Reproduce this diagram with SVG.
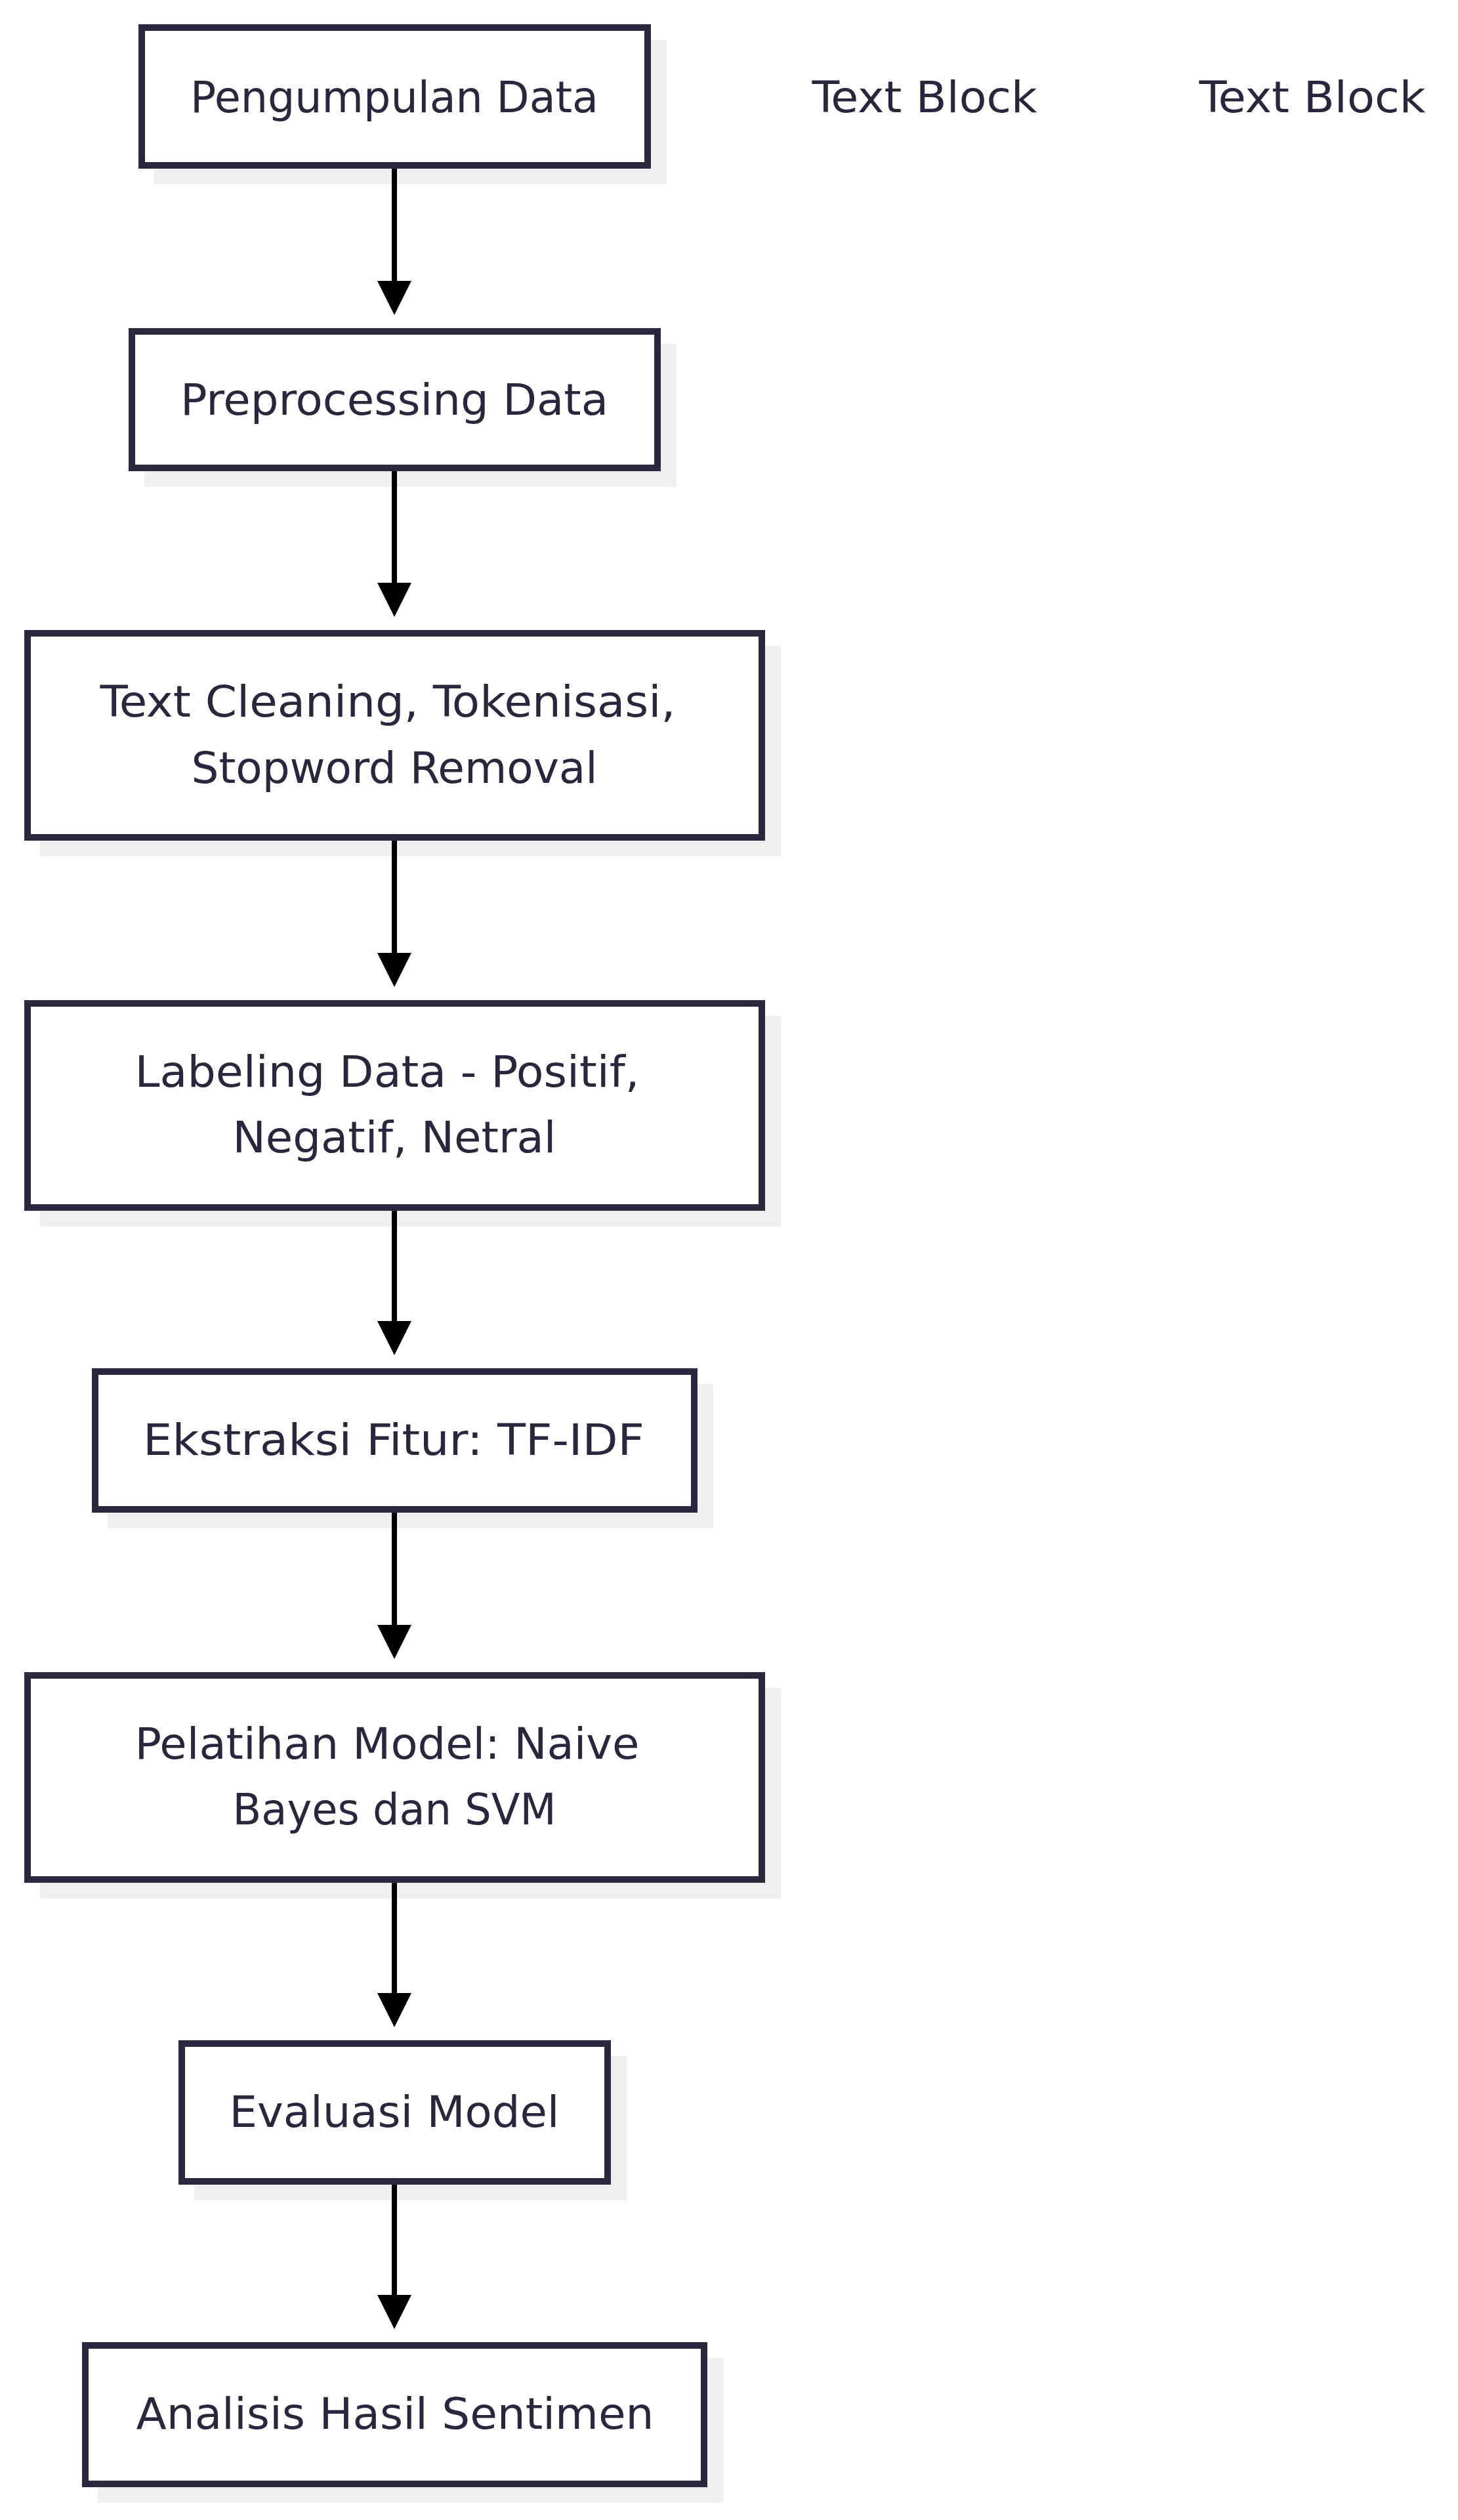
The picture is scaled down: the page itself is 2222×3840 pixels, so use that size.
<svg xmlns="http://www.w3.org/2000/svg" width="2222" height="3840" viewBox="0 0 2222 3840">
<defs>
<style>
.box{fill:#ffffff;stroke:#29283f;stroke-width:10}
.sh{fill:#efefef}
.t{font-family:"DejaVu Sans Condensed","DejaVu Sans",sans-serif;font-stretch:condensed;font-size:66px;fill:#28273e;text-anchor:middle}
.edge{stroke:#000;stroke-width:8;fill:none}
</style>
<marker id="ah" viewBox="0 0 10 10" refX="0" refY="5" markerUnits="userSpaceOnUse" markerWidth="52" markerHeight="60" orient="auto">
<path d="M0,0 L10,5 L0,10 z" fill="#000"/>
</marker>
</defs>
<rect width="2222" height="3840" fill="#ffffff"/>
<g id="n1">
<rect class="sh" x="235" y="61" width="781" height="220"/>
<rect class="box" x="216" y="42" width="771" height="210"/>
<text class="t" x="601" y="171" textLength="622" lengthAdjust="spacingAndGlyphs">Pengumpulan Data</text>
</g>
<g id="tb1"><text class="t" x="1409" y="171" textLength="343" lengthAdjust="spacingAndGlyphs">Text Block</text></g>
<g id="tb2"><text class="t" x="2000" y="171" textLength="345" lengthAdjust="spacingAndGlyphs">Text Block</text></g>
<g id="n2">
<rect class="sh" x="220" y="524" width="811" height="218"/>
<rect class="box" x="201" y="505" width="801" height="208"/>
<text class="t" x="601" y="632" textLength="652" lengthAdjust="spacingAndGlyphs">Preprocessing Data</text>
</g>
<g id="n3">
<rect class="sh" x="61" y="984" width="1129" height="321"/>
<rect class="box" x="42" y="965" width="1119" height="311"/>
<text class="t" x="591" y="1092" textLength="877" lengthAdjust="spacingAndGlyphs">Text Cleaning, Tokenisasi,</text>
<text class="t" x="601" y="1193" textLength="619" lengthAdjust="spacingAndGlyphs">Stopword Removal</text>
</g>
<g id="n4">
<rect class="sh" x="61" y="1548" width="1129" height="321"/>
<rect class="box" x="42" y="1529" width="1119" height="311"/>
<text class="t" x="590" y="1656" textLength="769" lengthAdjust="spacingAndGlyphs">Labeling Data - Positif,</text>
<text class="t" x="601" y="1756" textLength="493" lengthAdjust="spacingAndGlyphs">Negatif, Netral</text>
</g>
<g id="n5">
<rect class="sh" x="164" y="2109" width="923" height="220"/>
<rect class="box" x="145" y="2090" width="913" height="210"/>
<text class="t" x="600" y="2217" textLength="764" lengthAdjust="spacingAndGlyphs">Ekstraksi Fitur: TF-IDF</text>
</g>
<g id="n6">
<rect class="sh" x="61" y="2572" width="1129" height="321"/>
<rect class="box" x="42" y="2553" width="1119" height="311"/>
<text class="t" x="590" y="2680" textLength="769" lengthAdjust="spacingAndGlyphs">Pelatihan Model: Naive</text>
<text class="t" x="601" y="2780" textLength="493" lengthAdjust="spacingAndGlyphs">Bayes dan SVM</text>
</g>
<g id="n7">
<rect class="sh" x="296" y="3133" width="659" height="220"/>
<rect class="box" x="277" y="3114" width="649" height="210"/>
<text class="t" x="601" y="3241" textLength="503" lengthAdjust="spacingAndGlyphs">Evaluasi Model</text>
</g>
<g id="n8">
<rect class="sh" x="149" y="3593" width="953" height="221"/>
<rect class="box" x="130" y="3574" width="943" height="211"/>
<text class="t" x="602" y="3701" textLength="789" lengthAdjust="spacingAndGlyphs">Analisis Hasil Sentimen</text>
</g>
<g id="edges">
<path class="edge" d="M601,257 V428" marker-end="url(#ah)"/>
<path class="edge" d="M601,718 V888" marker-end="url(#ah)"/>
<path class="edge" d="M601,1281 V1452" marker-end="url(#ah)"/>
<path class="edge" d="M601,1845 V2013" marker-end="url(#ah)"/>
<path class="edge" d="M601,2305 V2476" marker-end="url(#ah)"/>
<path class="edge" d="M601,2869 V3037" marker-end="url(#ah)"/>
<path class="edge" d="M601,3329 V3497" marker-end="url(#ah)"/>
</g>
</svg>
